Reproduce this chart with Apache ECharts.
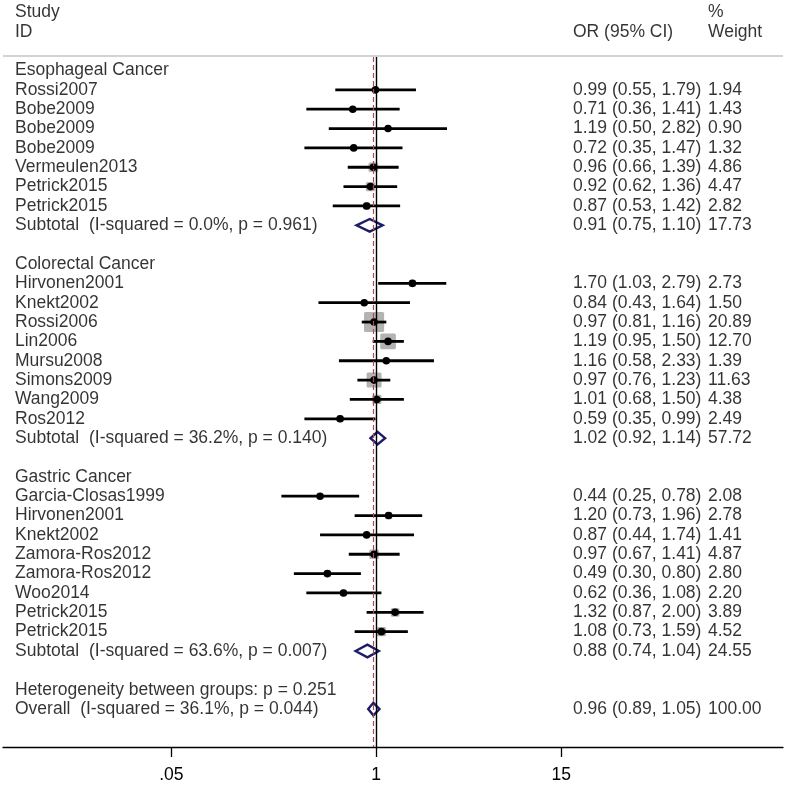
<!DOCTYPE html>
<html><head><meta charset="utf-8">
<script src="https://cdn.jsdelivr.net/npm/echarts@6/dist/echarts.min.js"></script>
<style>html,body{margin:0;padding:0;background:#fff}#c{width:787px;height:785px}</style>
</head><body><div id="c"></div><script>
// ---------- data ----------
const groupNames = ['Esophageal Cancer', 'Colorectal Cancer', 'Gastric Cancer'];

const esoStudies = ['Rossi2007', 'Bobe2009', 'Bobe2009', 'Bobe2009', 'Vermeulen2013', 'Petrick2015', 'Petrick2015'];
const esoOR = [0.99, 0.71, 1.19, 0.72, 0.96, 0.92, 0.87];
const esoLo = [0.55, 0.36, 0.50, 0.35, 0.66, 0.62, 0.53];
const esoHi = [1.79, 1.41, 2.82, 1.47, 1.39, 1.36, 1.42];
const esoW  = [1.94, 1.43, 0.90, 1.32, 4.86, 4.47, 2.82];

const crcStudies = ['Hirvonen2001', 'Knekt2002', 'Rossi2006', 'Lin2006', 'Mursu2008', 'Simons2009', 'Wang2009', 'Ros2012'];
const crcOR = [1.70, 0.84, 0.97, 1.19, 1.16, 0.97, 1.01, 0.59];
const crcLo = [1.03, 0.43, 0.81, 0.95, 0.58, 0.76, 0.68, 0.35];
const crcHi = [2.79, 1.64, 1.16, 1.50, 2.33, 1.23, 1.50, 0.99];
const crcW  = [2.73, 1.50, 20.89, 12.70, 1.39, 11.63, 4.38, 2.49];

const gasStudies = ['Garcia-Closas1999', 'Hirvonen2001', 'Knekt2002', 'Zamora-Ros2012', 'Zamora-Ros2012', 'Woo2014', 'Petrick2015', 'Petrick2015'];
const gasOR = [0.44, 1.20, 0.87, 0.97, 0.49, 0.62, 1.32, 1.08];
const gasLo = [0.25, 0.73, 0.44, 0.67, 0.30, 0.36, 0.87, 0.73];
const gasHi = [0.78, 1.96, 1.74, 1.41, 0.80, 1.08, 2.00, 1.59];
const gasW  = [2.08, 2.78, 1.41, 4.87, 2.80, 2.20, 3.89, 4.52];

const subtotalOR = [0.91, 1.02, 0.88];
const subtotalLo = [0.75, 0.92, 0.74];
const subtotalHi = [1.10, 1.14, 1.04];
const subtotalW  = [17.73, 57.72, 24.55];
const subtotalI2 = ['0.0', '36.2', '63.6'];
const subtotalP  = ['0.961', '0.140', '0.007'];

const heterogeneityP = '0.251';
const overallOR = 0.96, overallLo = 0.89, overallHi = 1.05, overallW = 100.00;
const overallI2 = '36.1', overallP = '0.044';

const tickValues = [0.05, 1, 15];
const tickLabels = ['.05', '1', '15'];

// ---------- layout constants ----------
const ROW0 = 70.5, STEP = 19.35, PLOT_TOP = 57, AXIS_Y = 747, H = 785;
const FONT = "'Liberation Sans', Arial, sans-serif";
const FS = 17.5;

// ---------- build rows ----------
const L = v => Math.log10(v);
const f2 = v => v.toFixed(2);
const ci = (o, l, h) => `${f2(o)} (${f2(l)}, ${f2(h)})`;

const groups = [
  { studies: esoStudies, or: esoOR, lo: esoLo, hi: esoHi, w: esoW },
  { studies: crcStudies, or: crcOR, lo: crcLo, hi: crcHi, w: crcW },
  { studies: gasStudies, or: gasOR, lo: gasLo, hi: gasHi, w: gasW }
];

const leftText = [[0, -3, 'Study'], [0, -2, 'ID']];
const orText = [[0, -2, 'OR (95% CI)']];
const wText = [[0, -3, '%'], [0, -2, 'Weight']];
const studyPts = [], diamonds = [];
let r = 0;
groups.forEach((g, gi) => {
  leftText.push([0, r, groupNames[gi]]); r++;
  g.studies.forEach((s, i) => {
    leftText.push([0, r, s]);
    orText.push([0, r, ci(g.or[i], g.lo[i], g.hi[i])]);
    wText.push([0, r, f2(g.w[i])]);
    studyPts.push([L(g.or[i]), r, L(g.lo[i]), L(g.hi[i]), g.w[i]]);
    r++;
  });
  leftText.push([0, r, `Subtotal  (I-squared = ${subtotalI2[gi]}%, p = ${subtotalP[gi]})`]);
  orText.push([0, r, ci(subtotalOR[gi], subtotalLo[gi], subtotalHi[gi])]);
  wText.push([0, r, f2(subtotalW[gi])]);
  diamonds.push([L(subtotalOR[gi]), r, L(subtotalLo[gi]), L(subtotalHi[gi])]);
  r += 2;
});
leftText.push([0, r, `Heterogeneity between groups: p = ${heterogeneityP}`]); r++;
leftText.push([0, r, `Overall  (I-squared = ${overallI2}%, p = ${overallP})`]);
orText.push([0, r, ci(overallOR, overallLo, overallHi)]);
wText.push([0, r, f2(overallW)]);
diamonds.push([L(overallOR), r, L(overallLo), L(overallHi)]);

// ---------- axes ----------
const plotYMin = -(ROW0 - PLOT_TOP) / STEP;
const yMax = (AXIS_Y - ROW0) / STEP;
const textYMin = -ROW0 / STEP;

const hiddenX = gi => ({ type: 'value', gridIndex: gi, min: 0, max: 1, show: false });
const yAxisFor = (gi, mn) => ({ type: 'value', gridIndex: gi, inverse: true, min: mn, max: yMax, show: false });

const textSeries = (gi, data) => ({
  type: 'scatter', xAxisIndex: gi, yAxisIndex: gi, data, symbolSize: 0, silent: true,
  itemStyle: { color: 'transparent' },
  label: { show: true, position: 'right', distance: 0, formatter: p => p.data[2],
           color: '#000', fontSize: FS, fontFamily: FONT },
  emphasis: { disabled: true }
});

const tickLog = tickValues.map(L);

const option = {
  animation: false,
  backgroundColor: '#fff',
  graphic: [{ type: 'line', shape: { x1: 3, y1: 56, x2: 783, y2: 56 }, style: { stroke: '#c4c4c4', lineWidth: 1.6 }, silent: true }],
  grid: [
    { left: 3, right: 4, top: PLOT_TOP, bottom: H - AXIS_Y },
    { left: 15, width: 10, top: 0, bottom: H - AXIS_Y },
    { left: 573, width: 10, top: 0, bottom: H - AXIS_Y },
    { left: 708, width: 10, top: 0, bottom: H - AXIS_Y }
  ],
  xAxis: [
    { type: 'value', gridIndex: 0, min: -2.371, max: 2.585, splitLine: { show: false },
      axisLine: { show: true, onZero: false, lineStyle: { color: '#000', width: 1.3 } },
      axisTick: { show: true, customValues: tickLog, length: 10, lineStyle: { color: '#000', width: 1.3 } },
      axisLabel: { show: true, customValues: tickLog, margin: 19, color: '#000', fontSize: FS, fontFamily: FONT,
        formatter: v => { const i = tickLog.findIndex(t => Math.abs(t - v) < 1e-6); return i >= 0 ? tickLabels[i] : ''; } } },
    hiddenX(1), hiddenX(2), hiddenX(3)
  ],
  yAxis: [yAxisFor(0, plotYMin), yAxisFor(1, textYMin), yAxisFor(2, textYMin), yAxisFor(3, textYMin)],
  series: [
    {
      type: 'custom', xAxisIndex: 0, yAxisIndex: 0, data: diamonds, z: 2, silent: true,
      renderItem: (params, api) => {
        const c = api.coord([api.value(0), api.value(1)]);
        const lo = api.coord([api.value(2), api.value(1)]);
        const hi = api.coord([api.value(3), api.value(1)]);
        const hh = 6.3;
        return { type: 'polygon', shape: { points: [[lo[0], c[1]], [c[0], c[1] - hh], [hi[0], c[1]], [c[0], c[1] + hh]] },
                 style: { fill: 'none', stroke: '#1c1c68', lineWidth: 2.4 } };
      },
      markLine: {
        silent: true, symbol: ['none', 'none'], label: { show: false },
        data: [
          { xAxis: L(1), lineStyle: { color: '#000', width: 1.4, type: 'solid' } },
          { xAxis: L(overallOR), lineStyle: { color: '#b04858', width: 1.2, type: [5, 3] } }
        ]
      }
    },
    {
      type: 'custom', xAxisIndex: 0, yAxisIndex: 0, data: studyPts, z: 3, silent: true,
      renderItem: (params, api) => {
        const c = api.coord([api.value(0), api.value(1)]);
        const lo = api.coord([api.value(2), api.value(1)]);
        const hi = api.coord([api.value(3), api.value(1)]);
        const s = 4.4 * Math.sqrt(api.value(4));
        return { type: 'group', children: [
          { type: 'rect', shape: { x: c[0] - s / 2, y: c[1] - s / 2, width: s, height: s, r: 1.5 }, style: { fill: '#b3b3b3' } },
          { type: 'line', shape: { x1: lo[0], y1: c[1], x2: hi[0], y2: c[1] }, style: { stroke: '#000', lineWidth: 2.8 } },
          { type: 'circle', shape: { cx: c[0], cy: c[1], r: 3.8 }, style: { fill: '#000' } }
        ] };
      }
    },
    textSeries(1, leftText),
    textSeries(2, orText),
    textSeries(3, wText)
  ]
};

const chart = echarts.init(document.getElementById('c'), null, { renderer: 'canvas' });
chart.setOption(option);
</script></body></html>
